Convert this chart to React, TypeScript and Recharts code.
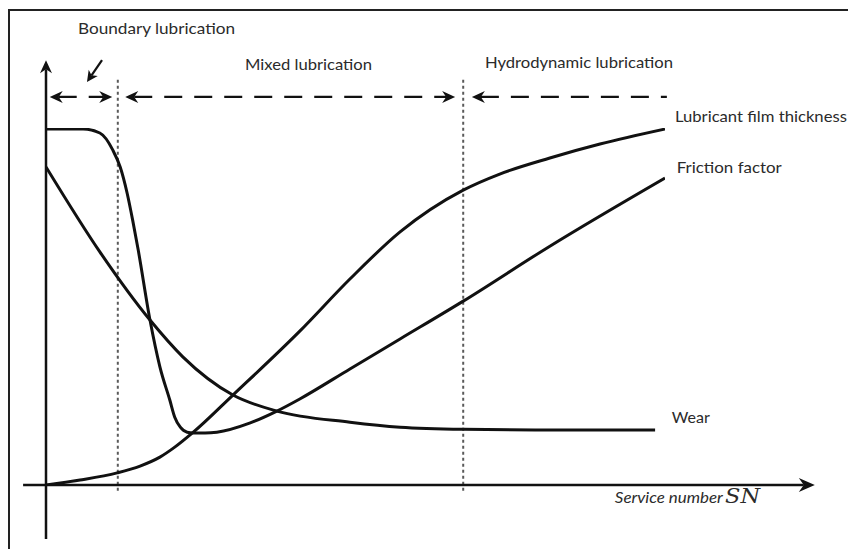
import React from 'react';
import { LineChart, Line, XAxis, YAxis, ReferenceLine, ReferenceDot } from 'recharts';

// Service number SN (0 at the vertical axis) and curve values (0 at the horizontal axis)
const frictionSN = [0, 2.3, 6, 8.7, 10.8, 12, 13.1, 14, 14.9, 16.8, 18.4, 20, 20.8, 21.7, 22.8, 23.8, 25.7, 27.6, 33, 37.3, 41, 49.1, 57.2, 67.4, 81.4, 100];
const frictionVal = [99.7, 99.7, 99.7, 98.6, 93.8, 89, 81.8, 74.2, 65.8, 46.2, 33.1, 23.8, 19, 16.2, 14.8, 14.6, 14.6, 14.8, 17.4, 20.7, 24.1, 32.5, 40.9, 51.5, 66.9, 86];

const wearSN = [0, 8.7, 16.8, 22.1, 30.2, 37.3, 49.1, 57.2, 67.4, 81.4, 98.4];
const wearVal = [89.1, 65.3, 46.2, 35.9, 25.2, 20.7, 17.6, 16.2, 15.6, 15.4, 15.4];

const filmSN = [0, 5.5, 11.5, 15.2, 18.4, 20.8, 23.8, 30.2, 41, 49.1, 57.2, 67.4, 73.3, 81.4, 89.5, 100];
const filmVal = [0, 1.4, 3.4, 5.3, 7.8, 10.6, 14.8, 25.2, 43.1, 57.7, 70.9, 82.6, 87.1, 91.6, 95.5, 99.7];

// Regime boundaries (SN)
const regimeBounds = [11.6, 67.4];

const toData = (xs: number[], ys: number[]) => xs.map((x, i) => ({ sn: x, v: ys[i] }));
const frictionData = toData(frictionSN, frictionVal);
const wearData = toData(wearSN, wearVal);
const filmData = toData(filmSN, filmVal);

const INK = '#111';
const TEXT = '#2b2b2b';

function headPath(tx: number, ty: number, dx: number, dy: number, len: number, half: number, notch: number) {
  const n = Math.hypot(dx, dy) || 1;
  const ux = dx / n, uy = dy / n;
  const px = -uy, py = ux;
  const bx = tx - ux * len, by = ty - uy * len;
  const nx = tx - ux * (len - notch), ny = ty - uy * (len - notch);
  return `M${tx},${ty} L${bx + px * half},${by + py * half} L${nx},${ny} L${bx - px * half},${by - py * half} Z`;
}

type ArrowOpts = { start?: boolean; end?: boolean; width: number; dash?: string; len: number; half: number; notch: number };

const arrowShape = (o: ArrowOpts) => (props: any) => {
  const x1 = Number(props.x1), y1 = Number(props.y1), x2 = Number(props.x2), y2 = Number(props.y2);
  const dx = x2 - x1, dy = y2 - y1;
  const n = Math.hypot(dx, dy) || 1;
  const ux = dx / n, uy = dy / n;
  const inset = o.len - o.notch;
  const sx = o.start ? x1 + ux * inset : x1;
  const sy = o.start ? y1 + uy * inset : y1;
  const ex = o.end ? x2 - ux * inset : x2;
  const ey = o.end ? y2 - uy * inset : y2;
  return (
    <g>
      <line x1={sx} y1={sy} x2={ex} y2={ey} stroke={INK} strokeWidth={o.width} strokeDasharray={o.dash} />
      {o.start && <path d={headPath(x1, y1, -dx, -dy, o.len, o.half, o.notch)} fill={INK} />}
      {o.end && <path d={headPath(x2, y2, dx, dy, o.len, o.half, o.notch)} fill={INK} />}
    </g>
  );
};

const regimeArrows = [
  { from: 0.6, to: 10.7, start: true, end: true },
  { from: 12.8, to: 66.1, start: true, end: true },
  { from: 68.8, to: 100.3, start: true, end: false },
];
const regimeArrowLevel = 108.7;

type Note = { text: string; sn: number; v: number; w: number; size: number; italic?: boolean; serif?: boolean };
const notes: Note[] = [
  { text: 'Boundary lubrication', sn: 5.17, v: 126.3, w: 157, size: 15 },
  { text: 'Mixed lubrication', sn: 32.15, v: 116.3, w: 127, size: 15 },
  { text: 'Hydrodynamic lubrication', sn: 70.92, v: 116.8, w: 188, size: 15 },
  { text: 'Lubricant film thickness', sn: 101.6, v: 101.7, w: 172, size: 15 },
  { text: 'Friction factor', sn: 101.9, v: 87.4, w: 105, size: 15 },
  { text: 'Wear', sn: 101.1, v: 17.4, w: 38, size: 15 },
  { text: 'Service number', sn: 91.9, v: -5.0, w: 108, size: 14.5, italic: true },
  { text: 'SN', sn: 109.7, v: -5.0, w: 35, size: 20, italic: true, serif: true },
];

const noteShape = (n: Note) => (p: any) => (
  <text
    x={p.cx}
    y={p.cy}
    fill={TEXT}
    fontSize={n.size}
    fontStyle={n.italic ? 'italic' : 'normal'}
    fontFamily={n.serif ? '"DejaVu Serif", serif' : 'Lato, "Open Sans", sans-serif'}
    textLength={n.w}
    lengthAdjust="spacingAndGlyphs"
  >
    {n.text}
  </text>
);

export default function App() {
  return (
    <div style={{ position: 'fixed', left: 0, top: 0, width: 848, height: 549, background: '#fff' }}>
      <div
        style={{
          position: 'absolute', left: 8, top: 9, width: 840, height: 540,
          borderTop: '2px solid #222', borderLeft: '2px solid #222', boxSizing: 'border-box',
        }}
      />
      <div style={{ position: 'absolute', left: 0, top: 0 }}>
        <LineChart width={848} height={549} margin={{ top: 128, right: 183, bottom: 64, left: 46 }}>
          <XAxis type="number" dataKey="sn" domain={[0, 100]} hide allowDataOverflow />
          <YAxis type="number" dataKey="v" domain={[0, 100]} hide allowDataOverflow />

          {regimeBounds.map((b) => (
            <ReferenceLine
              key={b}
              segment={[{ x: b, y: 113.5 }, { x: b, y: -1.8 }]}
              stroke="#5a5a5a"
              strokeWidth={2}
              strokeDasharray="3 3"
              ifOverflow="visible"
            />
          ))}

          {/* axes */}
          <ReferenceLine
            segment={[{ x: -3.7, y: 0 }, { x: 124.2, y: 0 }]}
            ifOverflow="visible"
            shape={arrowShape({ end: true, width: 2.5, len: 16, half: 7, notch: 5 })}
          />
          <ReferenceLine
            segment={[{ x: 0, y: -15.1 }, { x: 0, y: 119 }]}
            ifOverflow="visible"
            shape={arrowShape({ end: true, width: 2.5, len: 13, half: 6, notch: 4 })}
          />

          {regimeArrows.map((a, i) => (
            <ReferenceLine
              key={i}
              segment={[{ x: a.from, y: regimeArrowLevel }, { x: a.to, y: regimeArrowLevel }]}
              ifOverflow="visible"
              shape={arrowShape({ start: a.start, end: a.end, width: 2.2, dash: '18 12', len: 13, half: 6, notch: 4 })}
            />
          ))}

          {/* pointer to the boundary regime */}
          <ReferenceLine
            segment={[{ x: 9.05, y: 119 }, { x: 6.62, y: 112.9 }]}
            ifOverflow="visible"
            shape={arrowShape({ end: true, width: 2.2, len: 11, half: 5.5, notch: 3 })}
          />

          <Line data={frictionData} dataKey="v" type="monotone" dot={false} stroke={INK} strokeWidth={3} isAnimationActive={false} />
          <Line data={wearData} dataKey="v" type="monotone" dot={false} stroke={INK} strokeWidth={3} isAnimationActive={false} />
          <Line data={filmData} dataKey="v" type="monotone" dot={false} stroke={INK} strokeWidth={3} isAnimationActive={false} />

          {notes.map((n) => (
            <ReferenceDot key={n.text} x={n.sn} y={n.v} r={0} ifOverflow="visible" shape={noteShape(n)} />
          ))}
        </LineChart>
      </div>
    </div>
  );
}
